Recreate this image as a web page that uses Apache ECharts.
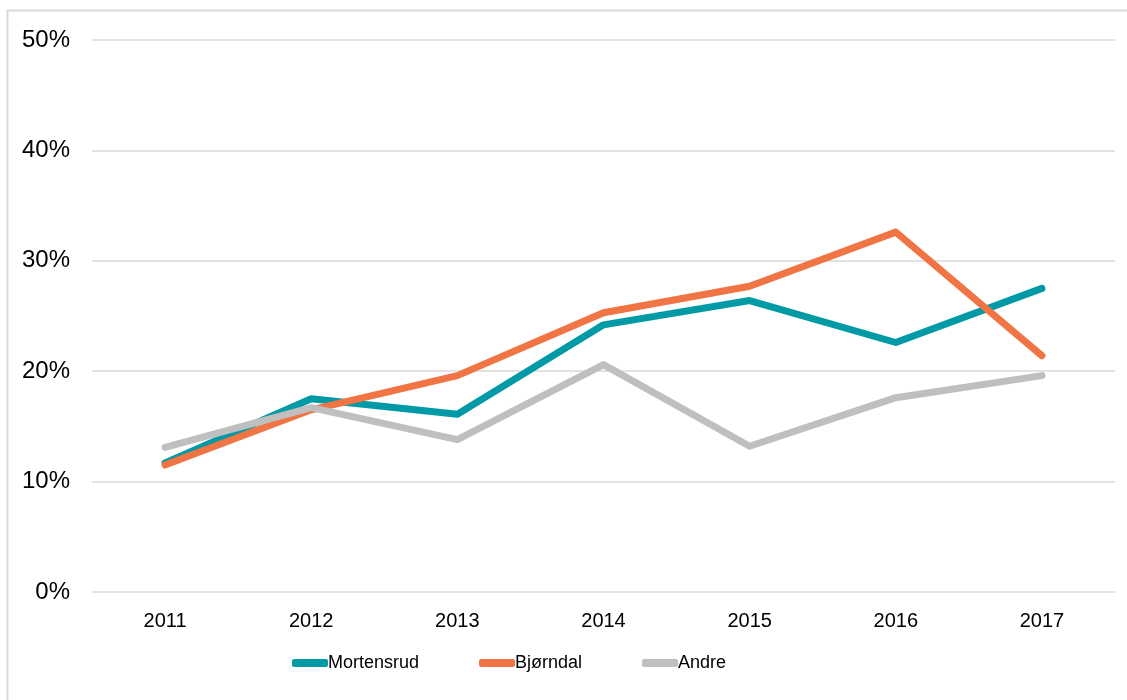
<!DOCTYPE html>
<html>
<head>
<meta charset="utf-8">
<style>
  html, body { margin: 0; padding: 0; background: #fff; }
  #chart { width: 1127px; height: 700px; }
</style>
<script src="https://cdn.jsdelivr.net/npm/echarts@6/dist/echarts.min.js"></script>
</head>
<body>
<div id="chart"></div>
<script>
const years = ['2011', '2012', '2013', '2014', '2015', '2016', '2017']
const mortensrud = [11.7, 17.5, 16.1, 24.2, 26.4, 22.6, 27.5]
const bjorndal = [11.5, 16.5, 19.6, 25.3, 27.7, 32.6, 21.4]
const andre = [13.1, 16.7, 13.8, 20.6, 13.2, 17.6, 19.6]

const chart = echarts.init(document.getElementById('chart'))

const lineSeries = (name, data, color) => ({
  name,
  type: 'line',
  data,
  symbol: 'none',
  lineStyle: { width: 7, color, cap: 'round', join: 'round' },
  itemStyle: { color }
})

chart.setOption({
  animation: false,
  graphic: [{
    type: 'rect',
    shape: { x: 7.5, y: 10.5, width: 1200, height: 800 },
    style: { fill: 'none', stroke: '#d9d9d9', lineWidth: 2 },
    silent: true
  }],
  grid: { left: 92, right: 12, top: 40, bottom: 108 },
  legend: {
    top: 649,
    left: 287,
    itemWidth: 36,
    itemHeight: 8,
    itemGap: 60,
    icon: 'roundRect',
    textStyle: { fontFamily: 'Liberation Sans', fontSize: 18, color: '#000', padding: [0, 0, 0, -5] },
    data: ['Mortensrud', 'Bjørndal', 'Andre']
  },
  xAxis: {
    type: 'category',
    data: years,
    boundaryGap: true,
    axisLine: { show: false },
    axisTick: { show: false },
    axisLabel: { fontFamily: 'Liberation Sans', fontSize: 20, color: '#000', margin: 19 }
  },
  yAxis: {
    type: 'value',
    min: 0,
    max: 50,
    interval: 10,
    axisLine: { show: false },
    axisTick: { show: false },
    splitLine: { lineStyle: { color: '#d9d9d9', width: 1.5 } },
    axisLabel: {
      fontFamily: 'Liberation Sans', fontSize: 24, color: '#000', margin: 22,
      padding: [4, 0, 0, 0],
      formatter: v => v + '%'
    }
  },
  series: [
    lineSeries('Mortensrud', mortensrud, '#009aa6'),
    lineSeries('Bjørndal', bjorndal, '#f07444'),
    lineSeries('Andre', andre, '#bfbfbf')
  ]
})
</script>
</body>
</html>
